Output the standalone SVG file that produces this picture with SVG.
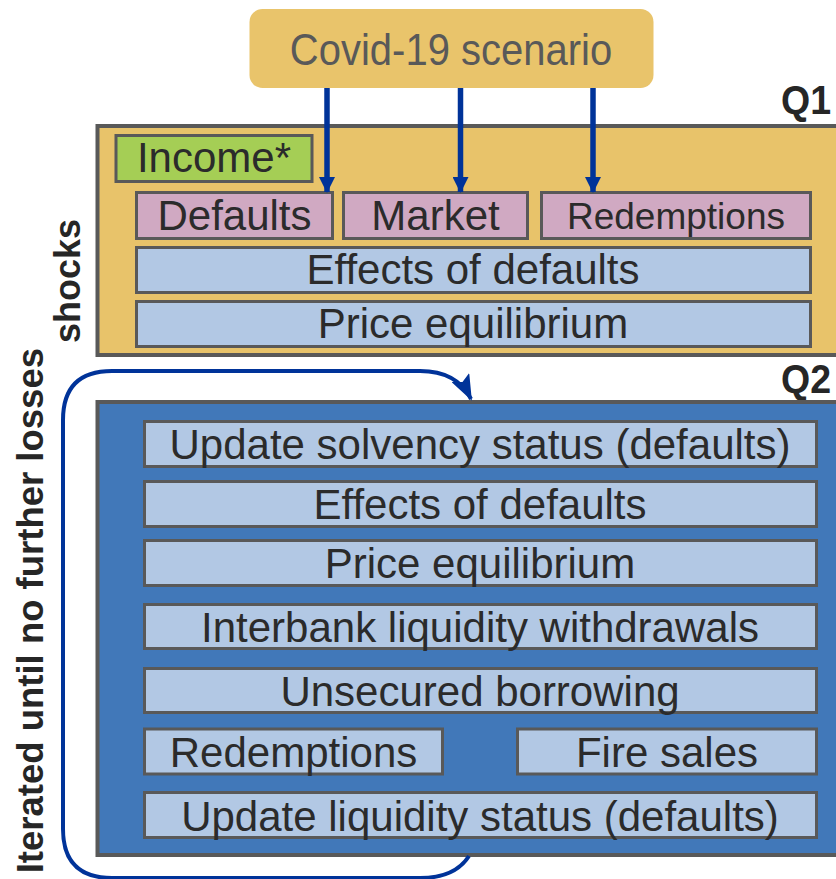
<svg xmlns="http://www.w3.org/2000/svg" width="836" height="879" viewBox="0 0 836 879">
<style>
.frame{stroke:#595959;stroke-width:4}
.box{stroke:#595959;stroke-width:3}
.t{font-family:"Liberation Sans",Arial,sans-serif;font-size:42px;fill:#2b2b2b;text-anchor:middle}
.b{font-family:"Liberation Sans",Arial,sans-serif;font-weight:bold;fill:#262626}
.pink{fill:#D0A9C2}
.lb{fill:#B2C8E4}
.conn{stroke:#003399;stroke-width:5.5;fill:none}
</style>
<defs>
<marker id="ah" markerWidth="16" markerHeight="16" viewBox="0 0 16 16" refX="15" refY="8" orient="auto" markerUnits="userSpaceOnUse">
<path d="M0,0 L16,8 L0,16 Z" fill="#003399"/>
</marker>
<marker id="ah2" markerWidth="26" markerHeight="20" viewBox="0 0 26 20" refX="24" refY="10" orient="auto" markerUnits="userSpaceOnUse">
<path d="M0,0 L26,10 L0,20 L5,10 Z" fill="#003399"/>
</marker>
</defs>

<g id="covid">
<rect x="249.5" y="9" width="404" height="79" rx="13" fill="#E9C46B"/>
<text transform="translate(451,65) scale(1,1.1)" class="t" style="font-size:40px;fill:#595959">Covid-19 scenario</text>
</g>

<g id="q1">
<text transform="translate(781,114) scale(1,1.1)" class="b" style="font-size:37.5px">Q1</text>
<rect x="97.5" y="126" width="760" height="229" class="frame" fill="#E8C36A"/>
<text transform="translate(80,343) rotate(-90)" class="b" style="font-size:36px">shocks</text>
</g>
<g id="income"><rect x="116" y="135.5" width="196" height="46" class="box" fill="#A5CE55"/><text x="214" y="172" class="t">Income*</text></g>
<g id="defaults"><rect x="136.5" y="192.5" width="196" height="46" class="box pink"/><text x="234.5" y="230" class="t">Defaults</text></g>
<g id="market"><rect x="343.5" y="192.5" width="184" height="46" class="box pink"/><text x="435.5" y="230" class="t">Market</text></g>
<g id="redemptions1"><rect x="541.5" y="192.5" width="269" height="46" class="box pink"/><text x="676" y="229" class="t" style="font-size:37px">Redemptions</text></g>
<g id="effects1"><rect x="136.5" y="247.5" width="674" height="45" class="box lb"/><text x="473" y="284" class="t">Effects of defaults</text></g>
<g id="price1"><rect x="136.5" y="301.5" width="674" height="45" class="box lb"/><text x="473" y="338" class="t">Price equilibrium</text></g>

<g id="q2">
<text transform="translate(781,393) scale(1,1.1)" class="b" style="font-size:37.5px">Q2</text>
<rect x="97.5" y="402" width="760" height="453" class="frame" fill="#4178B9"/>
<text transform="translate(43,348) rotate(-90)" class="b" style="font-size:36.5px;text-anchor:end">Iterated until no further losses</text>
</g>
<g id="solvency"><rect x="144.5" y="421.5" width="672" height="45" class="box lb"/><text x="480" y="459" class="t">Update solvency status (defaults)</text></g>
<g id="effects2"><rect x="144.5" y="481.5" width="672" height="45" class="box lb"/><text x="480" y="519" class="t">Effects of defaults</text></g>
<g id="price2"><rect x="144.5" y="540.5" width="672" height="45" class="box lb"/><text x="480" y="578" class="t">Price equilibrium</text></g>
<g id="interbank"><rect x="144.5" y="604.5" width="672" height="44" class="box lb"/><text x="480" y="642" class="t">Interbank liquidity withdrawals</text></g>
<g id="unsecured"><rect x="144.5" y="668.5" width="672" height="44" class="box lb"/><text x="480" y="706" class="t">Unsecured borrowing</text></g>
<g id="redemptions2"><rect x="144.5" y="729" width="298" height="45" class="box lb"/><text x="293.5" y="767" class="t">Redemptions</text></g>
<g id="firesales"><rect x="517.5" y="729" width="299" height="45" class="box lb"/><text x="667" y="767" class="t">Fire sales</text></g>
<g id="liquidity"><rect x="144.5" y="792.5" width="672" height="45" class="box lb"/><text x="480" y="831" class="t">Update liquidity status (defaults)</text></g>

<g id="connectors">
<line x1="327" y1="88" x2="327" y2="192" class="conn" marker-end="url(#ah)"/>
<line x1="460.5" y1="88" x2="460.5" y2="192" class="conn" marker-end="url(#ah)"/>
<line x1="593" y1="88" x2="593" y2="192" class="conn" marker-end="url(#ah)"/>
<path d="M 469 856 Q 455 878 420 878 L 112 878 Q 63 878 63 829 L 63 420 Q 63 371 112 371 L 420 371 Q 457 371 471 399" stroke="#003399" stroke-width="4" fill="none" marker-end="url(#ah2)"/>
</g>
</svg>
